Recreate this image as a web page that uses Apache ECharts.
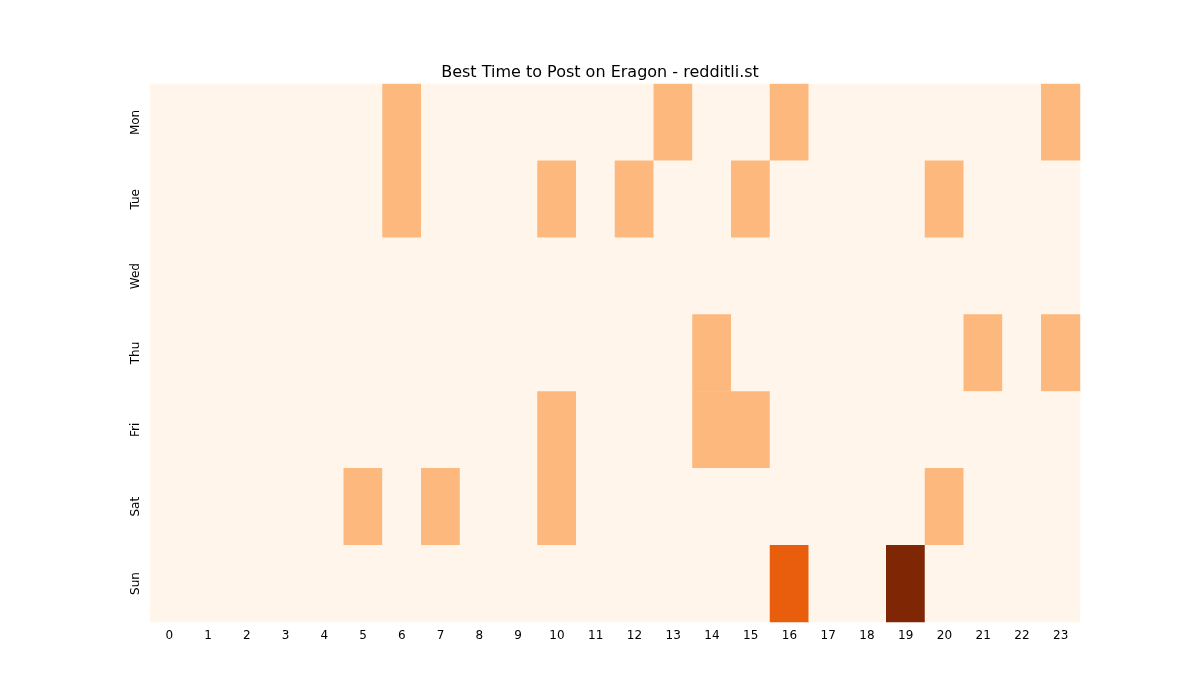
<!DOCTYPE html>
<html>
<head>
<meta charset="utf-8">
<script src="https://cdn.jsdelivr.net/npm/echarts@6/dist/echarts.min.js"></script>
<style>html,body{margin:0;padding:0;background:#fff}#chart{width:1200px;height:700px}</style>
</head>
<body>
<div id="chart"></div>
<script>
// 数据
const hours = ['0','1','2','3','4','5','6','7','8','9','10','11','12','13','14','15','16','17','18','19','20','21','22','23'];
const days = ['Mon', 'Tue', 'Wed', 'Thu', 'Fri', 'Sat', 'Sun'];
const mon = [0,0,0,0,0,0,1,0,0,0,0,0,0,1,0,0,1,0,0,0,0,0,0,1];
const tue = [0,0,0,0,0,0,1,0,0,0,1,0,1,0,0,1,0,0,0,0,1,0,0,0];
const wed = [0,0,0,0,0,0,0,0,0,0,0,0,0,0,0,0,0,0,0,0,0,0,0,0];
const thu = [0,0,0,0,0,0,0,0,0,0,0,0,0,0,1,0,0,0,0,0,0,1,0,1];
const fri = [0,0,0,0,0,0,0,0,0,0,1,0,0,0,1,1,0,0,0,0,0,0,0,0];
const sat = [0,0,0,0,0,1,0,1,0,0,1,0,0,0,0,0,0,0,0,0,1,0,0,0];
const sun = [0,0,0,0,0,0,0,0,0,0,0,0,0,0,0,0,2,0,0,3,0,0,0,0];

const rows = [mon, tue, wed, thu, fri, sat, sun];
const cells = [];
rows.forEach((row, d) => row.forEach((v, h) => cells.push([h, d, v])));

const chart = echarts.init(document.getElementById('chart'));
chart.setOption({
  animation: false,
  title: {
    text: 'Best Time to Post on Eragon - redditli.st',
    left: 'center', top: 60,
    textStyle: { fontSize: 16, fontWeight: 'normal', color: '#000', fontFamily: 'DejaVu Sans' }
  },
  grid: { left: 150, right: 120, top: 84, bottom: 78 },
  xAxis: {
    type: 'category', data: hours,
    axisLine: { show: false },
    axisTick: { alignWithLabel: true, length: 4, lineStyle: { color: '#000' } },
    axisLabel: { color: '#000', fontSize: 12, fontFamily: 'DejaVu Sans' },
    splitLine: { show: false }
  },
  yAxis: {
    type: 'category', data: days, inverse: true,
    axisLine: { show: false },
    axisTick: { alignWithLabel: true, length: 4, lineStyle: { color: '#000' } },
    axisLabel: { color: '#000', fontSize: 12, rotate: 90, fontFamily: 'DejaVu Sans' },
    splitLine: { show: false }
  },
  visualMap: {
    show: false, type: 'piecewise', dimension: 2,
    pieces: [
      { value: 0, color: '#fff5eb' },
      { value: 1, color: '#fdb97d' },
      { value: 2, color: '#e95e0d' },
      { value: 3, color: '#7f2704' }
    ]
  },
  series: [{
    type: 'heatmap',
    data: cells,
    itemStyle: { borderWidth: 0 },
    emphasis: { disabled: true }
  }],
  graphic: [{
    type: 'text', left: 550, top: 337,
    style: { text: 'redditli.st', fontSize: 27, fill: 'rgba(150,130,120,0.55)', fontFamily: 'DejaVu Sans' }
  }]
});
</script>
</body>
</html>
